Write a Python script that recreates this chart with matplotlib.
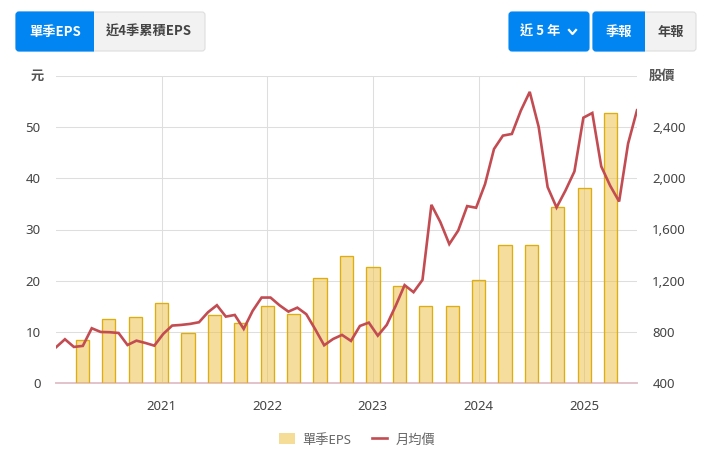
import numpy as np
import matplotlib
matplotlib.use("Agg")
import matplotlib.pyplot as plt
from matplotlib.patches import FancyBboxPatch, Rectangle
from matplotlib.lines import Line2D
from matplotlib.transforms import Bbox, IdentityTransform

plt.rcParams["font.family"] = ["Noto Sans", "Noto Sans CJK TC", "DejaVu Sans"]
CJK_FIRST = ["Noto Sans CJK TC", "DejaVu Sans"]

# quarterly EPS, first bar sits one slot in from the left edge
eps = [8.4, 12.5, 12.9, 15.6, 9.7, 13.25, 11.7, 15.0, 13.45, 20.5, 24.8,
       22.7, 19.0, 15.0, 15.0, 20.1, 26.95, 26.95, 34.4, 38.1, 52.8]

# monthly average price
price = [679, 742, 682, 690, 828, 799, 797, 791, 697, 731, 713, 692, 784, 849,
         854, 862, 875, 953, 1008, 919, 932, 823, 964, 1068, 1068, 1008, 958,
         989, 938, 820, 695, 744, 776, 729, 846, 872, 770, 854, 1003, 1165,
         1110, 1206, 1793, 1658, 1486, 1592, 1783, 1770, 1955, 2229, 2334,
         2347, 2529, 2676, 2402, 1932, 1772, 1905, 2054, 2474, 2511, 2093,
         1942, 1819, 2271, 2532]

year_labels = ["2021", "2022", "2023", "2024", "2025"]
year_pos = [4, 8, 12, 16, 20]
eps_ticks = [0, 10, 20, 30, 40, 50, 60]
price_ticks = [400, 800, 1200, 1600, 2000, 2400, 2800]

W, H = 712, 453
TEXT = "#444444"
BLUE = "#0085f2"
GREY = "#f2f2f2"

fig = plt.figure(figsize=(W / 100, H / 100), dpi=100)
ax = fig.add_axes([56 / W, 1 - 383 / H, 581 / W, 307 / H])

bar_x = np.arange(1, len(eps) + 1)
ax.bar(bar_x, eps, width=0.5, facecolor=(0.93, 0.76, 0.30, 0.55),
       edgecolor="#deae10", linewidth=0.95, zorder=3, label="單季EPS")
ax.set_xlim(0, 22)
ax.set_ylim(0, 60)
ax.set_yticks(eps_ticks)
ax.set_yticklabels([str(v) for v in eps_ticks[:-1]] + [""])
ax.set_xticks(year_pos)
ax.set_xticklabels(year_labels)
ax.grid(True, color="#dedede", linewidth=0.75, zorder=0)
ax.set_axisbelow(True)
ax.tick_params(length=0, labelsize=9.5, labelcolor=TEXT)
ax.tick_params(axis="x", pad=12)
ax.tick_params(axis="y", pad=11)
for s in ["top", "left", "right"]:
    ax.spines[s].set_visible(False)
ax.spines["bottom"].set_color("#e3c3cb")
ax.spines["bottom"].set_linewidth(1.4)

ax2 = ax.twinx()
# the price line runs over the full plot width
line_x = np.arange(len(price)) * 22 / (len(price) - 1)
ax2.plot(line_x, price, color="#c24c52", linewidth=1.9, label="月均價",
         solid_joinstyle="miter")
ax2.set_ylim(400, 2800)
ax2.set_yticks(price_ticks)
ax2.set_yticklabels([f"{v:,}" for v in price_ticks[:-1]] + [""])
ax2.tick_params(length=0, labelsize=9.5, labelcolor=TEXT, pad=11)
for s in ax2.spines.values():
    s.set_visible(False)

fig.text(44 / W, 1 - 76 / H, "元", ha="right", va="center", fontsize=9.5,
         color="#555555", fontweight="bold", family=CJK_FIRST)
fig.text(649 / W, 1 - 76 / H, "股價", ha="left", va="center", fontsize=9.5,
         color="#555555", fontweight="bold", family=CJK_FIRST)

line_handle = ax2.get_legend_handles_labels()[0][0]
swatch = Rectangle((0, 0), 1, 1, facecolor="#f5dd98", edgecolor="none")
fig.legend([swatch, line_handle], ["單季EPS", "月均價"], loc="center", ncol=2,
           frameon=False, bbox_to_anchor=(357 / W, 1 - 440 / H), fontsize=9.5,
           labelcolor="#666666", handlelength=1.2, handletextpad=0.6,
           columnspacing=1.5, handleheight=0.9)


def rounded(x0, x1, face, edge, cut=None):
    # pixel coords, measured from the top left like the page
    y0, y1 = 12, 51
    patch = FancyBboxPatch((x0 + 3, H - y1 + 3), x1 - x0 - 6, y1 - y0 - 6,
                           boxstyle="round,pad=3,rounding_size=3",
                           facecolor=face, edgecolor=edge, linewidth=0.8,
                           transform=IdentityTransform())
    if cut is not None:
        # square off the side where the button joins its neighbour
        patch.set_clip_box(Bbox([[x0 - 2, 0], [cut, H]]))
    fig.add_artist(patch)


def label(x, text, color):
    fig.text(x / W, 1 - 32 / H, text, ha="center", va="center", fontsize=9.5,
             fontweight="bold", color=color, family=CJK_FIRST)


# left button group
rounded(16, 205, GREY, "#dedede")
rounded(16, 110, BLUE, BLUE, cut=94)
label(55, "單季EPS", "white")
label(149, "近4季累積EPS", TEXT)

# right button groups
rounded(509, 589, BLUE, BLUE)
label(540, "近 5 年", "white")
fig.add_artist(Line2D([569 / W, 572.5 / W, 576 / W],
                      [1 - 30 / H, 1 - 34 / H, 1 - 30 / H],
                      color="white", linewidth=1.6, transform=fig.transFigure))
rounded(593, 696, GREY, "#dedede")
rounded(593, 660, BLUE, BLUE, cut=645)
label(619, "季報", "white")
label(671, "年報", TEXT)

fig.savefig("out.png", dpi=100)
